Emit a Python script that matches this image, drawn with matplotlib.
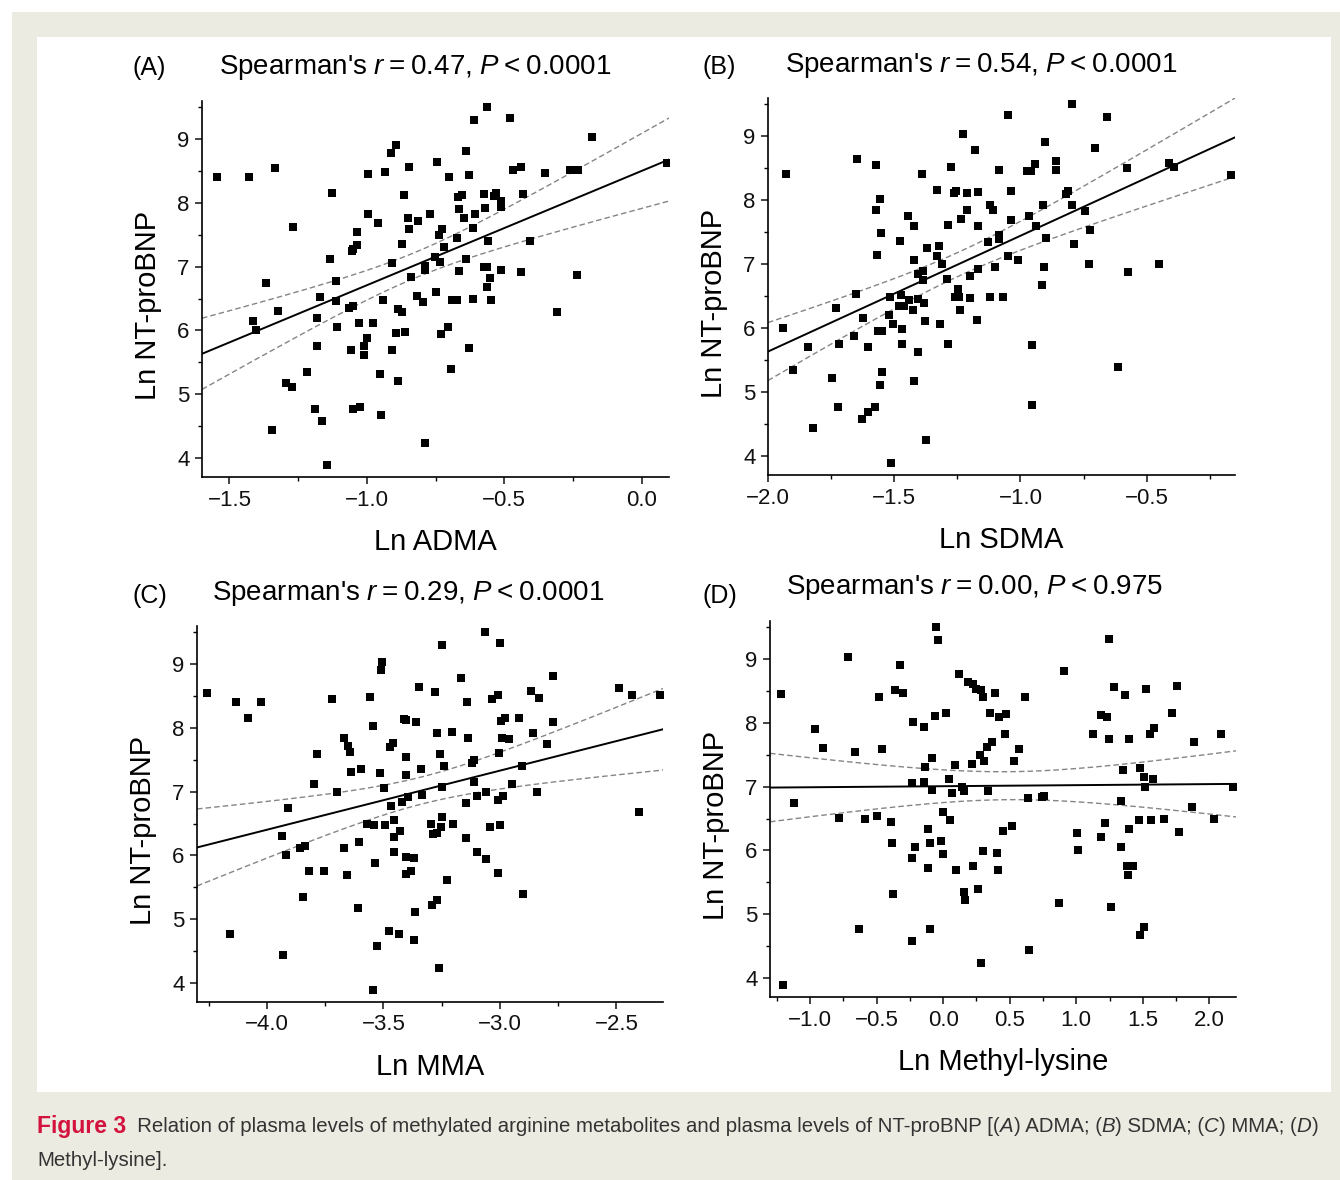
import numpy as np
import matplotlib
matplotlib.use("Agg")
import matplotlib.pyplot as plt
from matplotlib.ticker import MultipleLocator
from matplotlib.patches import Rectangle

# ---- data (Ln values) ----
adma_x = [-1.544, -1.430, -1.334, -1.126, -1.270, -1.368, -1.413, -1.403, -1.323, -1.170,
          -1.113, -1.113, -1.181, -1.108, -1.182, -1.219, -1.294, -1.274, -1.189, -1.164,
          -1.346, -1.144, -1.134, -0.995, -0.933, -0.911, -0.894, -0.845, -0.866, -0.995,
          -0.961, -1.034, -1.037, -1.049, -1.055, -0.873, -0.907, -0.851, -0.845, -0.815,
          -0.771, -0.743, -0.702, -0.639, -0.629, -0.611, -0.562, -0.477, -0.182, -0.469,
          -0.440, -0.351, -0.259, -0.230, 0.094, -0.668, -0.653, -0.574, -0.536, -0.528,
          -0.511, -0.511, -0.431, -0.666, -0.568, -0.645, -0.607, -0.613, -0.737, -0.726,
          -0.719, -0.670, -0.559, -0.407, -0.751, -0.734, -0.787, -0.788, -0.838, -0.639,
          -0.666, -0.574, -0.562, -0.551, -0.562, -0.511, -0.438, -0.234, -0.307, -0.749,
          -0.817, -0.797, -0.689, -0.670, -0.613, -0.548, -0.941, -1.052, -1.064, -0.888,
          -0.873, -1.028, -0.978, -0.862, -0.893, -0.730, -0.706, -1.000, -1.012, -1.059,
          -1.009, -0.908, -0.628, -0.952, -0.888, -0.693, -1.052, -1.026, -0.949, -0.787]
adma_y = [8.41, 8.41, 8.55, 8.16, 7.62, 6.75, 6.15, 6.01, 6.31, 6.52,
          6.77, 6.46, 6.20, 6.06, 5.75, 5.35, 5.17, 5.11, 4.77, 4.58,
          4.43, 3.89, 7.12, 8.45, 8.48, 8.78, 8.91, 8.56, 8.13, 7.83,
          7.69, 7.54, 7.34, 7.28, 7.25, 7.35, 7.06, 7.76, 7.59, 7.71,
          7.83, 8.64, 8.40, 8.81, 8.44, 9.30, 9.51, 9.33, 9.03, 8.51,
          8.57, 8.47, 8.52, 8.52, 8.62, 8.10, 8.12, 8.14, 8.11, 8.15,
          8.03, 7.94, 8.14, 7.91, 7.92, 7.76, 7.82, 7.61, 7.49, 7.59,
          7.31, 7.45, 7.41, 7.40, 7.15, 7.07, 7.01, 6.95, 6.84, 7.12,
          6.93, 7.00, 7.00, 6.82, 6.68, 6.95, 6.91, 6.87, 6.29, 6.61,
          6.54, 6.44, 6.48, 6.48, 6.49, 6.48, 6.47, 6.39, 6.35, 6.34,
          6.29, 6.12, 6.12, 5.98, 5.96, 5.95, 6.06, 5.88, 5.76, 5.70,
          5.62, 5.70, 5.72, 5.31, 5.21, 5.39, 4.77, 4.80, 4.68, 4.23]

sdma_x = [-1.927, -1.940, -1.901, -1.841, -1.823, -1.746, -1.722, -1.717, -1.729, -1.652,
          -1.659, -1.623, -1.602, -1.628, -1.602, -1.577, -1.647, -1.571, -1.558, -1.571,
          -1.554, -1.567, -1.563, -1.548, -1.549, -1.558, -1.513, -1.517, -1.521, -1.504,
          -1.470, -1.470, -1.476, -1.446, -1.421, -1.388, -1.421, -1.421, -1.405, -1.376,
          -1.481, -1.474, -1.460, -1.440, -1.425, -1.406, -1.406, -1.386, -1.386, -1.382,
          -1.380, -1.372, -1.329, -1.323, -1.329, -1.311, -1.290, -1.319, -1.286, -1.286,
          -1.274, -1.262, -1.254, -1.229, -1.237, -1.212, -1.212, -1.181, -1.168, -1.168,
          -1.246, -1.259, -1.243, -1.239, -1.201, -1.201, -1.167, -1.172, -1.130, -1.119,
          -1.110, -1.086, -1.086, -1.083, -1.101, -1.122, -1.071, -1.048, -1.036, -1.036,
          -1.048, -1.008, -0.974, -0.960, -0.942, -0.968, -0.939, -0.903, -0.909, -0.898,
          -0.907, -0.913, -0.956, -0.956, -0.861, -0.861, -0.821, -0.810, -0.795, -0.794,
          -0.786, -0.743, -0.726, -0.728, -0.705, -0.659, -0.577, -0.574, -0.614, -0.452,
          -0.413, -0.390, -0.165]
sdma_y = [8.41, 6.00, 5.35, 5.70, 4.43, 5.22, 4.76, 5.75, 6.31, 6.54,
          5.88, 6.15, 5.70, 4.58, 4.68, 4.76, 8.64, 8.55, 8.02, 7.84,
          7.49, 7.15, 5.96, 5.96, 5.31, 5.11, 3.89, 6.49, 6.21, 6.07,
          5.99, 5.75, 7.36, 7.76, 7.59, 8.41, 7.07, 5.17, 5.62, 4.24,
          6.34, 6.51, 6.35, 6.44, 6.28, 6.46, 6.84, 6.90, 6.75, 6.39,
          6.11, 7.25, 8.16, 7.29, 7.12, 7.00, 6.77, 6.06, 5.75, 7.62,
          8.52, 8.11, 8.15, 9.03, 7.71, 8.12, 7.84, 8.78, 8.13, 7.59,
          6.61, 6.48, 6.48, 6.29, 6.82, 6.47, 6.93, 6.12, 7.35, 7.92,
          7.84, 8.47, 7.45, 7.40, 6.95, 6.49, 6.49, 9.33, 8.15, 7.69,
          7.12, 7.06, 8.46, 8.46, 8.56, 7.76, 7.60, 8.91, 7.93, 7.41,
          6.95, 6.68, 5.73, 4.80, 8.61, 8.47, 8.10, 8.15, 9.50, 7.92,
          7.31, 7.83, 7.54, 7.00, 8.81, 9.30, 8.51, 6.87, 5.39, 7.00,
          8.59, 8.52, 8.40]

mma_x = [-4.257, -4.131, -4.083, -4.024, -4.157, -3.934, -3.919, -3.909, -3.930, -3.856,
         -3.837, -3.819, -3.757, -3.843, -3.796, -3.783, -3.719, -3.699, -3.667, -3.651,
         -3.643, -3.640, -3.667, -3.656, -3.594, -3.604, -3.607, -3.571, -3.557, -3.544,
         -3.539, -3.534, -3.544, -3.526, -3.511, -3.504, -3.514, -3.497, -3.491, -3.476,
         -3.467, -3.470, -3.460, -3.453, -3.456, -3.456, -3.427, -3.431, -3.410, -3.403,
         -3.401, -3.403, -3.419, -3.394, -3.404, -3.370, -3.401, -3.380, -3.363, -3.369,
         -3.359, -3.347, -3.337, -3.334, -3.296, -3.289, -3.269, -3.253, -3.249, -3.290,
         -3.269, -3.260, -3.277, -3.269, -3.259, -3.240, -3.250, -3.247, -3.227, -3.206,
         -3.201, -3.167, -3.140, -3.139, -3.144, -3.144, -3.120, -3.110, -3.110, -3.097,
         -3.099, -3.066, -3.061, -3.061, -3.044, -3.034, -3.009, -3.000, -2.996, -2.977,
         -3.004, -2.991, -2.963, -3.010, -2.986, -3.001, -3.009, -2.950, -2.920, -2.904,
         -2.901, -2.866, -2.833, -2.860, -2.841, -2.799, -2.770, -2.770, -2.490, -2.431,
         -2.311, -2.404]
mma_y = [8.55, 8.41, 8.16, 8.41, 4.76, 6.31, 6.00, 6.74, 4.43, 6.11,
         6.15, 5.75, 5.75, 5.35, 7.12, 7.59, 8.46, 7.00, 7.84, 7.71,
         7.62, 7.31, 6.11, 5.70, 7.35, 6.21, 5.17, 6.49, 8.48, 8.03,
         6.47, 5.88, 3.89, 4.58, 8.91, 9.03, 7.29, 7.06, 6.48, 4.81,
         6.77, 7.70, 7.76, 6.55, 6.29, 6.06, 6.39, 4.76, 8.14, 8.13,
         7.54, 7.26, 6.84, 6.91, 5.98, 5.96, 5.71, 5.76, 5.11, 4.67,
         8.10, 8.64, 7.35, 6.95, 6.50, 6.34, 6.35, 6.45, 6.61, 5.22,
         5.30, 4.24, 8.57, 7.92, 7.59, 7.41, 7.07, 9.30, 5.62, 7.93,
         6.49, 8.78, 8.40, 7.84, 6.82, 6.28, 7.45, 7.49, 7.15, 6.93,
         6.05, 9.51, 7.00, 5.95, 6.44, 8.45, 8.51, 9.33, 8.11, 8.15,
         7.61, 7.84, 7.83, 6.87, 6.94, 6.47, 5.72, 7.12, 8.15, 7.40,
         5.39, 8.58, 8.47, 7.92, 7.00, 7.75, 8.81, 8.10, 8.62, 8.52,
         8.52, 6.68]

mlys_x = [-1.221, -1.203, -1.116, -0.961, -0.899, -0.784, -0.714, -0.659, -0.629, -0.589,
          -0.494, -0.484, -0.459, -0.389, -0.382, -0.377, -0.359, -0.320, -0.300, -0.225,
          -0.230, -0.210, -0.230, -0.230, -0.147, -0.135, -0.147, -0.112, -0.102, -0.112,
          -0.095, -0.087, -0.087, -0.055, -0.037, -0.057, 0.022, -0.017, 0.000, 0.000,
          0.047, 0.050, 0.067, 0.087, 0.095, 0.122, 0.142, 0.160, 0.160, 0.165,
          0.185, 0.217, 0.225, 0.225, 0.247, 0.287, 0.302, 0.280, 0.310, 0.262,
          0.287, 0.302, 0.337, 0.330, 0.352, 0.367, 0.387, 0.419, 0.474, 0.464,
          0.407, 0.412, 0.452, 0.519, 0.532, 0.567, 0.614, 0.637, 0.644, 0.744,
          0.761, 0.871, 0.909, 1.006, 1.016, 1.126, 1.188, 1.231, 1.246, 1.248,
          1.283, 1.216, 1.188, 1.348, 1.333, 1.335, 1.263, 1.363, 1.393, 1.393,
          1.378, 1.430, 1.388, 1.480, 1.508, 1.513, 1.575, 1.475, 1.563, 1.660,
          1.510, 1.480, 1.525, 1.555, 1.583, 1.722, 1.755, 1.770, 1.882, 1.867,
          2.034, 2.087, 2.177]
mlys_y = [8.45, 3.89, 6.74, 7.91, 7.60, 6.51, 9.03, 7.54, 4.76, 6.49,
          6.54, 8.41, 7.59, 6.45, 6.12, 5.31, 8.51, 8.91, 8.47, 8.02,
          7.06, 6.06, 5.88, 4.58, 7.93, 7.31, 7.07, 6.34, 6.12, 5.72,
          4.76, 7.45, 6.95, 9.50, 9.30, 8.11, 8.15, 6.15, 5.95, 6.61,
          7.12, 6.48, 6.90, 7.34, 5.69, 8.77, 7.00, 6.94, 5.35, 5.22,
          8.64, 7.35, 8.61, 5.75, 8.53, 8.51, 8.41, 7.49, 7.40, 5.39,
          4.24, 5.99, 6.93, 7.62, 8.16, 7.70, 8.47, 8.10, 8.14, 7.82,
          5.96, 5.70, 6.31, 6.39, 7.41, 7.59, 8.41, 6.82, 4.43, 6.84,
          6.86, 5.17, 8.81, 6.28, 6.00, 7.83, 8.13, 8.10, 7.75, 9.32,
          8.56, 6.43, 6.21, 7.26, 6.77, 6.05, 5.11, 8.44, 7.75, 6.34,
          5.75, 5.75, 5.62, 7.29, 7.15, 7.00, 7.12, 6.47, 6.47, 6.49,
          4.80, 4.67, 8.54, 7.83, 7.92, 8.15, 8.58, 6.29, 7.70, 6.68,
          6.49, 7.83, 7.00]

panel_tags = ["(A)", "(B)", "(C)", "(D)"]
r_values = ["0.47", "0.54", "0.29", "0.00"]
p_values = ["0.0001", "0.0001", "0.0001", "0.975"]
x_labels = ["Ln ADMA", "Ln SDMA", "Ln MMA", "Ln Methyl-lysine"]
x_limits = [(-1.6, 0.1), (-2.0, -0.15), (-4.3, -2.3), (-1.3, 2.2)]

# ---- style ----
plt.rcParams["font.family"] = ["Liberation Sans", "DejaVu Sans"]
plt.rcParams["mathtext.fontset"] = "custom"
plt.rcParams["mathtext.rm"] = "Liberation Sans"
plt.rcParams["mathtext.it"] = "Liberation Sans:italic"

W, H = 1340, 1180
fig = plt.figure(figsize=(W / 100, H / 100), dpi=100)
fig.patch.set_facecolor("white")

def px(x, y):
    # pixel position (from top-left) -> figure fraction
    return x / W, 1 - y / H

# beige page band and white figure box
fig.patches.append(Rectangle((12 / W, 0), 1, 1 - 12 / H, transform=fig.transFigure,
                             facecolor="#ECEBE1", edgecolor="none", zorder=-2))
fig.patches.append(Rectangle(px(37, 1092), (1331 - 37) / W, (1092 - 37) / H,
                             transform=fig.transFigure, facecolor="white",
                             edgecolor="none", zorder=-1))

# axes boxes in pixels: left, top, right, bottom
boxes = [(202, 101, 669, 477), (768, 98, 1235, 475),
         (197, 626, 663, 1002), (770, 621, 1236, 997)]
tag_pos = [(133, 68), (702, 67), (133, 596), (702, 596)]
title_pos = [(219, 68), (785, 66), (212, 594), (786, 588)]

data = [(adma_x, adma_y), (sdma_x, sdma_y), (mma_x, mma_y), (mlys_x, mlys_y)]

def fit_band(x, y, xs):
    x = np.asarray(x); y = np.asarray(y)
    n = len(x)
    b, a = np.polyfit(x, y, 1)
    s = np.sqrt(np.sum((y - (a + b * x)) ** 2) / (n - 2))
    se = s * np.sqrt(1 / n + (xs - x.mean()) ** 2 / np.sum((x - x.mean()) ** 2))
    yh = a + b * xs
    return yh, yh - 1.98 * se, yh + 1.98 * se

for i, (xv, yv) in enumerate(data):
    l, t, r, b = boxes[i]
    ax = fig.add_axes([l / W, 1 - b / H, (r - l) / W, (b - t) / H])
    ax.plot(xv, yv, "s", color="black", ms=5.5, mew=0, zorder=3)

    xs = np.linspace(x_limits[i][0], x_limits[i][1], 200)
    yh, lo, hi = fit_band(xv, yv, xs)
    ax.plot(xs, yh, color="black", lw=1.4, zorder=2)
    ax.plot(xs, lo, color="#858585", lw=1.0, dashes=(4, 2.2), zorder=2)
    ax.plot(xs, hi, color="#858585", lw=1.0, dashes=(4, 2.2), zorder=2)

    ax.set_xlim(x_limits[i])
    ax.set_ylim(3.7, 9.6)
    ax.xaxis.set_major_locator(MultipleLocator(0.5))
    ax.xaxis.set_minor_locator(MultipleLocator(0.25))
    ax.yaxis.set_major_locator(MultipleLocator(1))
    ax.yaxis.set_minor_locator(MultipleLocator(0.5))
    ax.xaxis.set_major_formatter(lambda v, pos: f"{v:.1f}".replace("-", "\u2212"))
    for side in ["top", "right"]:
        ax.spines[side].set_visible(False)
    for side in ["left", "bottom"]:
        ax.spines[side].set_linewidth(1.2)
    ax.tick_params(which="major", direction="out", length=5, width=1.1,
                   labelsize=16, pad=4, colors="#111111")
    ax.tick_params(which="minor", direction="out", length=3, width=1.0)
    ax.patch.set_alpha(0)

    ax.set_xlabel(x_labels[i], fontsize=21, va="center")
    ax.xaxis.set_label_coords(0.5, -0.172)
    ax.set_ylabel("Ln NT-proBNP", fontsize=21, va="center")
    ax.yaxis.set_label_coords(-0.116, 0.455)

    fx, fy = px(*tag_pos[i])
    fig.text(fx, fy, panel_tags[i], fontsize=18, ha="left", va="center")
    fx, fy = px(*title_pos[i])
    fig.text(fx, fy, "Spearman's $r$\u2009=\u2009" + r_values[i] + ", $P$\u2009<\u2009" + p_values[i],
             fontsize=20, ha="left", va="center")

# ---- caption ----
cap_font = ["Liberation Sans", "DejaVu Sans"]
renderer = fig.canvas.get_renderer()

def put_runs(x, y, runs):
    for s, size, weight, style, color in runs:
        txt = fig.text(x, y, s, fontsize=size, family=cap_font, weight=weight,
                       style=style, color=color, ha="left", va="center")
        x += txt.get_window_extent(renderer).width / W

crimson = "#D3123E"
grey = "#333333"
fs = 14.7
put_runs(*px(37, 1127), [
    ("Figure 3", 16.5, "bold", "normal", crimson),
    ("  Relation of plasma levels of methylated arginine metabolites and plasma levels of NT-proBNP [(",
     fs, "normal", "normal", grey),
    ("A", fs, "normal", "italic", grey), (") ADMA; (", fs, "normal", "normal", grey),
    ("B", fs, "normal", "italic", grey), (") SDMA; (", fs, "normal", "normal", grey),
    ("C", fs, "normal", "italic", grey), (") MMA; (", fs, "normal", "normal", grey),
    ("D", fs, "normal", "italic", grey), (")", fs, "normal", "normal", grey),
])
put_runs(*px(37, 1160), [("Methyl-lysine].", fs, "normal", "normal", grey)])

fig.savefig("out.png", dpi=100)
